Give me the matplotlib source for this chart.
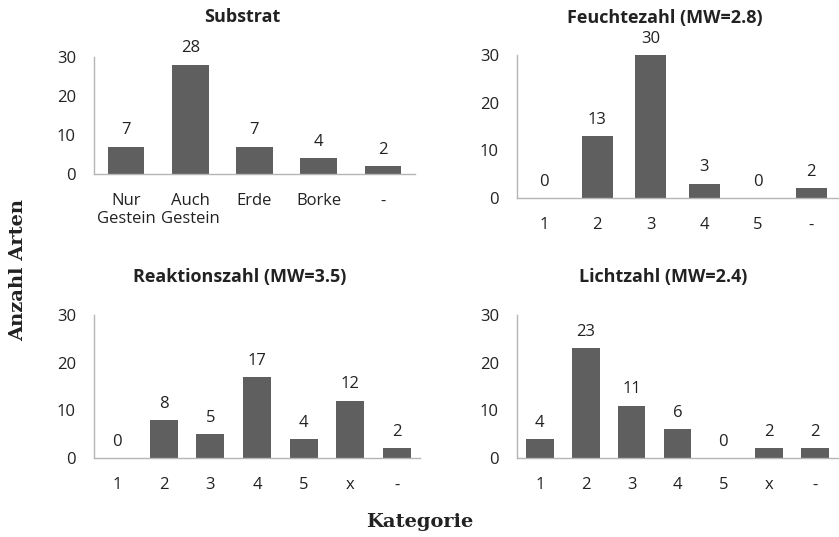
import matplotlib.pyplot as plt

# Daten aus der Abbildung
substrat_cat = ['Nur\nGestein', 'Auch\nGestein', 'Erde', 'Borke', '-']
substrat_val = [7, 28, 7, 4, 2]

feuchte_cat = ['1', '2', '3', '4', '5', '-']
feuchte_val = [0, 13, 30, 3, 0, 2]

reaktion_cat = ['1', '2', '3', '4', '5', 'x', '-']
reaktion_val = [0, 8, 5, 17, 4, 12, 2]

licht_cat = ['1', '2', '3', '4', '5', 'x', '-']
licht_val = [4, 23, 11, 6, 0, 2, 2]

titles = ['Substrat', 'Feuchtezahl (MW=2.8)', 'Reaktionszahl (MW=3.5)', 'Lichtzahl (MW=2.4)']

W, H = 839, 537
fig = plt.figure(figsize=(W / 100, H / 100), dpi=100)
plt.rcParams['font.family'] = ['Open Sans', 'DejaVu Sans']

bar_color = '#5f5f5f'
spine_color = '#b5b5b5'
text_color = '#222222'
fs = 12


def px_axes(left, right, top, bottom):
    return fig.add_axes([left / W, 1 - bottom / H, (right - left) / W, (bottom - top) / H])


panels = [
    (px_axes(94, 415, 57, 174), substrat_cat, substrat_val, 0.57),
    (px_axes(517, 838, 55, 198), feuchte_cat, feuchte_val, 0.58),
    (px_axes(94, 420, 315, 458), reaktion_cat, reaktion_val, 0.6),
    (px_axes(517, 838, 315, 458), licht_cat, licht_val, 0.6),
]

for (ax, cats, vals, bw), title in zip(panels, titles):
    x = range(len(cats))
    ax.bar(x, vals, width=bw, color=bar_color)
    for xi, v in zip(x, vals):
        ax.annotate(str(v), (xi, v), xytext=(0, 6), textcoords='offset points',
                    ha='center', va='bottom', fontsize=fs, color=text_color)
    ax.set_xlim(-0.5, len(cats) - 0.5)
    ax.set_ylim(0, 30)
    ax.set_yticks([0, 10, 20, 30])
    ax.set_xticks(list(x))
    ax.set_xticklabels(cats, fontsize=fs, color=text_color, linespacing=1.15)
    ax.tick_params(axis='y', length=0, pad=13, labelsize=fs, labelcolor=text_color)
    ax.tick_params(axis='x', length=0, pad=14)
    for s in ['top', 'right']:
        ax.spines[s].set_visible(False)
    for s in ['left', 'bottom']:
        ax.spines[s].set_color(spine_color)
        ax.spines[s].set_linewidth(1.0)

tfs = 13
fig.text(242 / W, 1 - 17 / H, titles[0], ha='center', va='center', fontsize=tfs, fontweight='bold', color=text_color)
fig.text(665 / W, 1 - 18 / H, titles[1], ha='center', va='center', fontsize=tfs, fontweight='bold', color=text_color)
fig.text(240 / W, 1 - 277 / H, titles[2], ha='center', va='center', fontsize=tfs, fontweight='bold', color=text_color)
fig.text(663 / W, 1 - 277 / H, titles[3], ha='center', va='center', fontsize=tfs, fontweight='bold', color=text_color)

# Achsentitel
fig.text(18 / W, 1 - 270 / H, 'Anzahl Arten', rotation=90, ha='center', va='center',
         fontsize=14, fontweight='bold', family='DejaVu Serif', color=text_color)
fig.text(420 / W, 1 - 522 / H, 'Kategorie', ha='center', va='center',
         fontsize=14, fontweight='bold', family='DejaVu Serif', color=text_color)

fig.savefig('out.png', dpi=100)
